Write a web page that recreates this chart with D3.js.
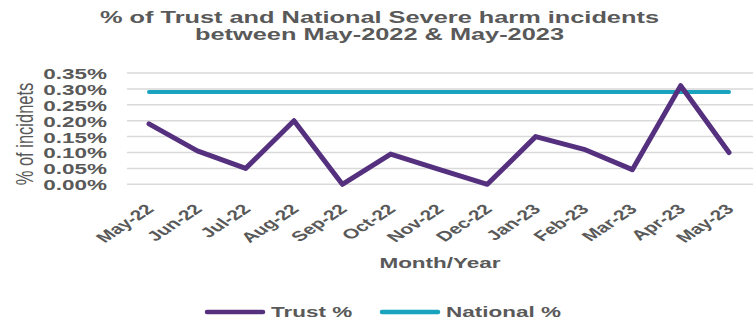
<!DOCTYPE html>
<html>
<head>
<meta charset="utf-8">
<script src="https://cdn.jsdelivr.net/npm/d3@7/dist/d3.min.js"></script>
<style>
  html, body { margin: 0; padding: 0; background: #ffffff; }
  svg { display: block; font-family: "Liberation Sans", Arial, sans-serif; }
</style>
</head>
<body>
<svg id="chart" width="753" height="321"></svg>
<script>
// Monthly share of severe harm incidents (values are already percentages)
const months = ["May-22", "Jun-22", "Jul-22", "Aug-22", "Sep-22", "Oct-22", "Nov-22",
                "Dec-22", "Jan-23", "Feb-23", "Mar-23", "Apr-23", "May-23"];
const trustPct = [0.19, 0.105, 0.05, 0.20, 0.0, 0.095, 0.047, 0.0, 0.15, 0.11, 0.046, 0.31, 0.10];
const nationalPct = [0.29, 0.29, 0.29, 0.29, 0.29, 0.29, 0.29, 0.29, 0.29, 0.29, 0.29, 0.29, 0.29];
const yTicks = [0, 0.05, 0.10, 0.15, 0.20, 0.25, 0.30, 0.35];
const titleLines = ["% of Trust and National Severe harm incidents", "between May-2022 & May-2023"];
const seriesNames = ["Trust %", "National %"];

const textColor = "#595959";
const trustColor = "#55307f";
const nationalColor = "#1aa3bf";
const gridColor = "#d9d9d9";
const sx = 1.5; // wide text proportions

const svg = d3.select("#chart");

const x = d3.scalePoint().domain(months).range([149, 729]);
const y = d3.scaleLinear().domain([0, 0.35]).range([184.3, 73]);
const fmt = d => d.toFixed(2) + "%";

// Title
svg.append("g").selectAll("text")
  .data(titleLines)
  .join("text")
  .attr("transform", (d, i) => `translate(379.5,${22.6 + i * 17.2}) scale(${sx},1)`)
  .attr("text-anchor", "middle")
  .attr("font-size", 16.9)
  .attr("font-weight", "bold")
  .attr("fill", textColor)
  .text(d => d);

// Horizontal gridlines
svg.append("g").selectAll("line")
  .data(yTicks)
  .join("line")
  .attr("x1", 127).attr("x2", 753)
  .attr("y1", d => y(d)).attr("y2", d => y(d))
  .attr("stroke", gridColor)
  .attr("stroke-width", 1.5);

// Y axis labels
const yAxis = svg.append("g")
  .attr("transform", "translate(107,0)")
  .call(d3.axisLeft(y).tickValues(yTicks).tickFormat(fmt).tickSize(0).tickPadding(0));
yAxis.select(".domain").remove();
yAxis.selectAll("text")
  .attr("x", 0)
  .attr("dy", "0.36em")
  .attr("transform", `scale(${sx},1)`)
  .attr("font-family", "Liberation Sans, Arial, sans-serif")
  .attr("font-size", 15)
  .attr("font-weight", "bold")
  .attr("fill", textColor);

// Y axis title
svg.append("text")
  .attr("transform", `translate(33,134) scale(${sx},1) rotate(-90)`)
  .attr("text-anchor", "middle")
  .attr("font-size", 16.5)
  .attr("fill", textColor)
  .text("% of incidnets");

// X axis labels
const xAxis = svg.append("g")
  .attr("transform", "translate(0,191)")
  .call(d3.axisBottom(x).tickSize(0).tickPadding(0));
xAxis.select(".domain").remove();
xAxis.selectAll("text")
  .attr("x", 0).attr("y", 0)
  .attr("dy", "0.71em")
  .attr("text-anchor", "end")
  .attr("transform", `translate(-5,12) scale(${sx},1) rotate(-45)`)
  .attr("font-family", "Liberation Sans, Arial, sans-serif")
  .attr("font-size", 14)
  .attr("font-weight", "bold")
  .attr("fill", textColor);

// X axis title
svg.append("text")
  .attr("transform", `translate(440,268) scale(${sx},1)`)
  .attr("text-anchor", "middle")
  .attr("font-size", 15)
  .attr("font-weight", "bold")
  .attr("fill", textColor)
  .text("Month/Year");

// Series lines
const line = d3.line()
  .x((d, i) => x(months[i]))
  .y(d => y(d));

svg.append("path")
  .datum(nationalPct)
  .attr("d", line)
  .attr("fill", "none")
  .attr("stroke", nationalColor)
  .attr("stroke-width", 4)
  .attr("stroke-linecap", "round");

svg.append("path")
  .datum(trustPct)
  .attr("d", line)
  .attr("fill", "none")
  .attr("stroke", trustColor)
  .attr("stroke-width", 5)
  .attr("stroke-linejoin", "round")
  .attr("stroke-linecap", "round");

// Legend
const legendItems = [
  { name: seriesNames[0], color: trustColor, x: 205 },
  { name: seriesNames[1], color: nationalColor, x: 380 }
];
const lg = svg.append("g").selectAll("g")
  .data(legendItems)
  .join("g")
  .attr("transform", d => `translate(${d.x},312)`);
lg.append("line")
  .attr("x1", 2).attr("x2", 58)
  .attr("y1", 0).attr("y2", 0)
  .attr("stroke", d => d.color)
  .attr("stroke-width", 4.5)
  .attr("stroke-linecap", "round");
lg.append("text")
  .attr("transform", `translate(66,5.3) scale(${sx},1)`)
  .attr("font-size", 15)
  .attr("font-weight", "bold")
  .attr("fill", textColor)
  .text(d => d.name);
</script>
</body>
</html>
